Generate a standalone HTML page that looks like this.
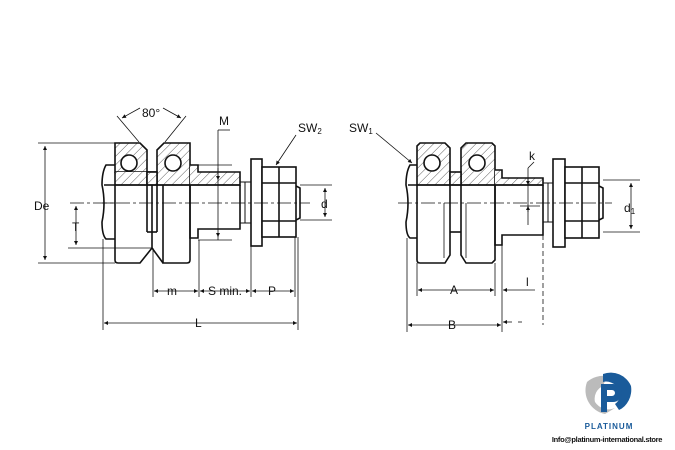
<!DOCTYPE html>
<html><head><style>
html,body{margin:0;padding:0;background:#fff}
svg{display:block}
text{font-family:"Liberation Sans",Arial,sans-serif;fill:#111}
</style></head><body>
<svg width="675" height="450" viewBox="0 0 675 450" xmlns="http://www.w3.org/2000/svg">
<defs>
<pattern id="h" width="6" height="6" patternUnits="userSpaceOnUse" patternTransform="rotate(45)">
<rect width="6" height="6" fill="#fff"/><line x1="0" y1="0" x2="0" y2="6" stroke="#333" stroke-width="0.8"/></pattern>
<marker id="a" viewBox="0 0 10 10" refX="10" refY="5" markerWidth="6" markerHeight="5" orient="auto-start-reverse"><path d="M0,0L10,5L0,10z" fill="#111"/></marker>
</defs>
<g stroke="#111" stroke-width="1.6" fill="none">
<!-- LEFT VIEW -->
<path d="M115,165 L106,165 Q102,172 102,185 Q106,203 102,222 Q102,235 106,239 L115,239"/>
<line x1="102" y1="203" x2="115" y2="203" stroke-width="0.8"/>
<path d="M115,143 L140,143 L147,150 L147,172 L115,172 Z" fill="url(#h)"/>
<path d="M115,172 L115,185 L147,185 L147,172" fill="url(#h)"/>
<circle cx="129" cy="163" r="8" fill="#fff"/>
<path d="M115,185 L115,260 Q115,263 118,263 L140,263 L152,248 L152,185"/>
<path d="M157,150 L164,143 L190,143 L190,185 L157,185 Z" fill="url(#h)"/>
<circle cx="173" cy="163" r="8" fill="#fff"/>
<path d="M163,185 L163,263 L187,263 Q190,263 190,260 L190,185"/>
<path d="M152,248 L163,263"/>
<line x1="147" y1="172" x2="157" y2="172"/>
<rect x="147" y="172" width="10" height="13" fill="url(#h)"/>
<line x1="147" y1="185" x2="147" y2="232"/><line x1="157" y1="185" x2="157" y2="232"/><line x1="147" y1="232" x2="157" y2="232"/>
<path d="M190,165 L198,165 L198,172 L240,172 L240,185 L190,185" fill="url(#h)"/>
<path d="M190,185 L190,238 L198,238 L198,229 L240,229 L240,185"/>
<line x1="104" y1="185" x2="240" y2="185"/>
<path d="M240,182 L251,182 M240,223 L251,223 M245,182 L245,223" stroke-width="1"/>
<rect x="251" y="159" width="11" height="87" fill="#fff"/>
<rect x="262" y="167" width="34" height="70" fill="#fff"/>
<line x1="262" y1="183" x2="296" y2="183"/><line x1="262" y1="221" x2="296" y2="221"/><line x1="279" y1="167" x2="279" y2="237"/>
<path d="M296,186 L300,188 L300,218 L296,220"/>
<line x1="70" y1="203" x2="310" y2="203" stroke-width="0.7" stroke-dasharray="14,3,3,3"/>
<g stroke-width="0.8">
<line x1="38" y1="143" x2="115" y2="143"/><line x1="38" y1="263" x2="115" y2="263"/>
<line x1="45" y1="146" x2="45" y2="260" marker-start="url(#a)" marker-end="url(#a)"/>
<line x1="68" y1="248" x2="152" y2="248"/>
<line x1="76" y1="206" x2="76" y2="245" marker-start="url(#a)" marker-end="url(#a)"/>
<line x1="198" y1="165" x2="232" y2="165"/><line x1="198" y1="240" x2="232" y2="240"/>
<line x1="218" y1="130" x2="218" y2="240"/><line x1="218" y1="130" x2="230" y2="130"/>
<line x1="218" y1="168" x2="218" y2="180" marker-end="url(#a)"/><line x1="218" y1="235" x2="218" y2="237" marker-end="url(#a)"/>
<line x1="300" y1="185" x2="332" y2="185"/><line x1="300" y1="220" x2="332" y2="220"/>
<line x1="325" y1="188" x2="325" y2="217" marker-start="url(#a)" marker-end="url(#a)"/>
<line x1="153" y1="248" x2="153" y2="297"/><line x1="199" y1="240" x2="199" y2="297"/>
<line x1="251" y1="246" x2="251" y2="297"/><line x1="295" y1="237" x2="295" y2="297"/>
<line x1="103" y1="239" x2="103" y2="330"/><line x1="298" y1="237" x2="298" y2="330"/>
<line x1="154" y1="291" x2="198" y2="291" marker-start="url(#a)" marker-end="url(#a)"/>
<line x1="200" y1="291" x2="250" y2="291" marker-start="url(#a)" marker-end="url(#a)"/>
<line x1="252" y1="291" x2="294" y2="291" marker-start="url(#a)" marker-end="url(#a)"/>
<line x1="104" y1="323" x2="297" y2="323" marker-start="url(#a)" marker-end="url(#a)"/>
<line x1="117" y1="116" x2="139" y2="142"/><line x1="186" y1="116" x2="165" y2="142"/>
<path d="M122,118 L140,108" marker-start="url(#a)"/><path d="M181,118 L163,108" marker-start="url(#a)"/>
<line x1="296" y1="135" x2="276" y2="165" marker-end="url(#a)"/>
</g>
<!-- RIGHT VIEW -->
<path d="M417,165 L410,165 Q406,172 406,185 Q410,203 406,222 Q406,235 410,238 L417,238"/>
<path d="M417,146 L420,143 L445,143 L450,148 L450,185 L417,185 Z" fill="url(#h)"/>
<circle cx="432" cy="163" r="8" fill="#fff"/>
<path d="M461,148 L466,143 L492,143 L495,146 L495,185 L461,185 Z" fill="url(#h)"/>
<circle cx="477" cy="163" r="8" fill="#fff"/>
<rect x="450" y="172" width="11" height="13" fill="url(#h)"/>
<path d="M495,170 L502,170 L502,178 L543,178 L543,185 L495,185" fill="url(#h)"/>
<path d="M417,185 L417,260 Q417,263 420,263 L445,263 L450,255 L450,185"/>
<path d="M461,185 L461,255 L466,263 L492,263 L495,260 L495,185"/>
<line x1="450" y1="232" x2="461" y2="232"/>
<line x1="444" y1="203" x2="444" y2="258" stroke-width="0.8"/><line x1="466" y1="203" x2="466" y2="258" stroke-width="0.8"/>
<path d="M495,185 L495,245 L502,245 L502,235 L543,235 L543,185"/>
<line x1="408" y1="185" x2="543" y2="185"/>
<path d="M543,183 L553,183 M543,222 L553,222 M548,183 L548,222" stroke-width="1"/>
<rect x="553" y="159" width="12" height="88" fill="#fff"/>
<rect x="565" y="167" width="34" height="71" fill="#fff"/>
<line x1="565" y1="183" x2="599" y2="183"/><line x1="565" y1="221" x2="599" y2="221"/><line x1="582" y1="167" x2="582" y2="238"/>
<path d="M599,186 L603,188 L603,218 L599,220"/>
<line x1="398" y1="203" x2="612" y2="203" stroke-width="0.7" stroke-dasharray="14,3,3,3"/>
<g stroke-width="0.8">
<line x1="528" y1="168" x2="528" y2="225"/><line x1="528" y1="168" x2="534" y2="162"/>
<line x1="528" y1="178" x2="528" y2="185" marker-end="url(#a)"/>
<line x1="528" y1="212" x2="528" y2="206" marker-end="url(#a)"/>
<line x1="520" y1="206" x2="540" y2="206"/>
<line x1="603" y1="180" x2="640" y2="180"/><line x1="603" y1="232" x2="640" y2="232"/>
<line x1="631" y1="183" x2="631" y2="229" marker-start="url(#a)" marker-end="url(#a)"/>
<line x1="417" y1="263" x2="417" y2="296"/><line x1="495" y1="263" x2="495" y2="296"/>
<line x1="407" y1="238" x2="407" y2="332"/><line x1="502" y1="245" x2="502" y2="332"/>
<line x1="543" y1="235" x2="543" y2="325" stroke-dasharray="5,3"/>
<line x1="418" y1="290" x2="494" y2="290" marker-start="url(#a)" marker-end="url(#a)"/>
<line x1="503" y1="290" x2="535" y2="290" marker-start="url(#a)"/>
<line x1="408" y1="325" x2="501" y2="325" marker-start="url(#a)" marker-end="url(#a)"/>
<line x1="503" y1="322" x2="512" y2="322" marker-start="url(#a)"/><line x1="518" y1="322" x2="522" y2="322"/>
<line x1="376" y1="133" x2="412" y2="163" marker-end="url(#a)"/>
</g>
</g>
<g font-size="12">
<text x="142" y="117">80°</text>
<text x="219" y="125">M</text>
<text x="298" y="132">SW<tspan font-size="8" dy="2">2</tspan></text>
<text x="34" y="210">De</text>
<text x="72" y="231">T</text>
<text x="321" y="208">d</text>
<text x="167" y="295">m</text>
<text x="208" y="295">S min.</text>
<text x="268" y="295">P</text>
<text x="195" y="327">L</text>
<text x="349" y="132">SW<tspan font-size="8" dy="2">1</tspan></text>
<text x="529" y="160">k</text>
<text x="624" y="212">d<tspan font-size="8" dy="2">1</tspan></text>
<text x="450" y="294">A</text>
<text x="526" y="286">l</text>
<text x="448" y="329">B</text>
</g>
<g transform="translate(609,392)">
<path d="M-22,-10 A24,22 0 0 1 -2,-16 L-6,-6 A14,14 0 0 0 -14,10 A16,16 0 0 0 6,16 L-4,22 A24,24 0 0 1 -22,-10Z" fill="#bbb"/>
<path d="M-6,-18 A22,22 0 0 1 22,-6 A20,22 0 0 1 10,18 L6,12 A12,12 0 0 0 8,-6 Q0,-12 -6,-10Z" fill="#1a5b9a"/>
<path d="M-8,-8 L4,-8 A9,9 0 0 1 4,10 L-2,10 L-2,20 L-8,20Z M-2,-2 L-2,4 L3,4 A3,3 0 0 0 3,-2Z" fill="#1a5b9a" fill-rule="evenodd"/>
</g>
<text x="609" y="429" font-size="8" font-weight="bold" text-anchor="middle" style="fill:#1a5b9a;letter-spacing:1px">PLATINUM</text>
<text x="607" y="442" font-size="7.5" font-weight="bold" text-anchor="middle" style="letter-spacing:-0.3px">Info@platinum-international.store</text>
</svg>
</body></html>
